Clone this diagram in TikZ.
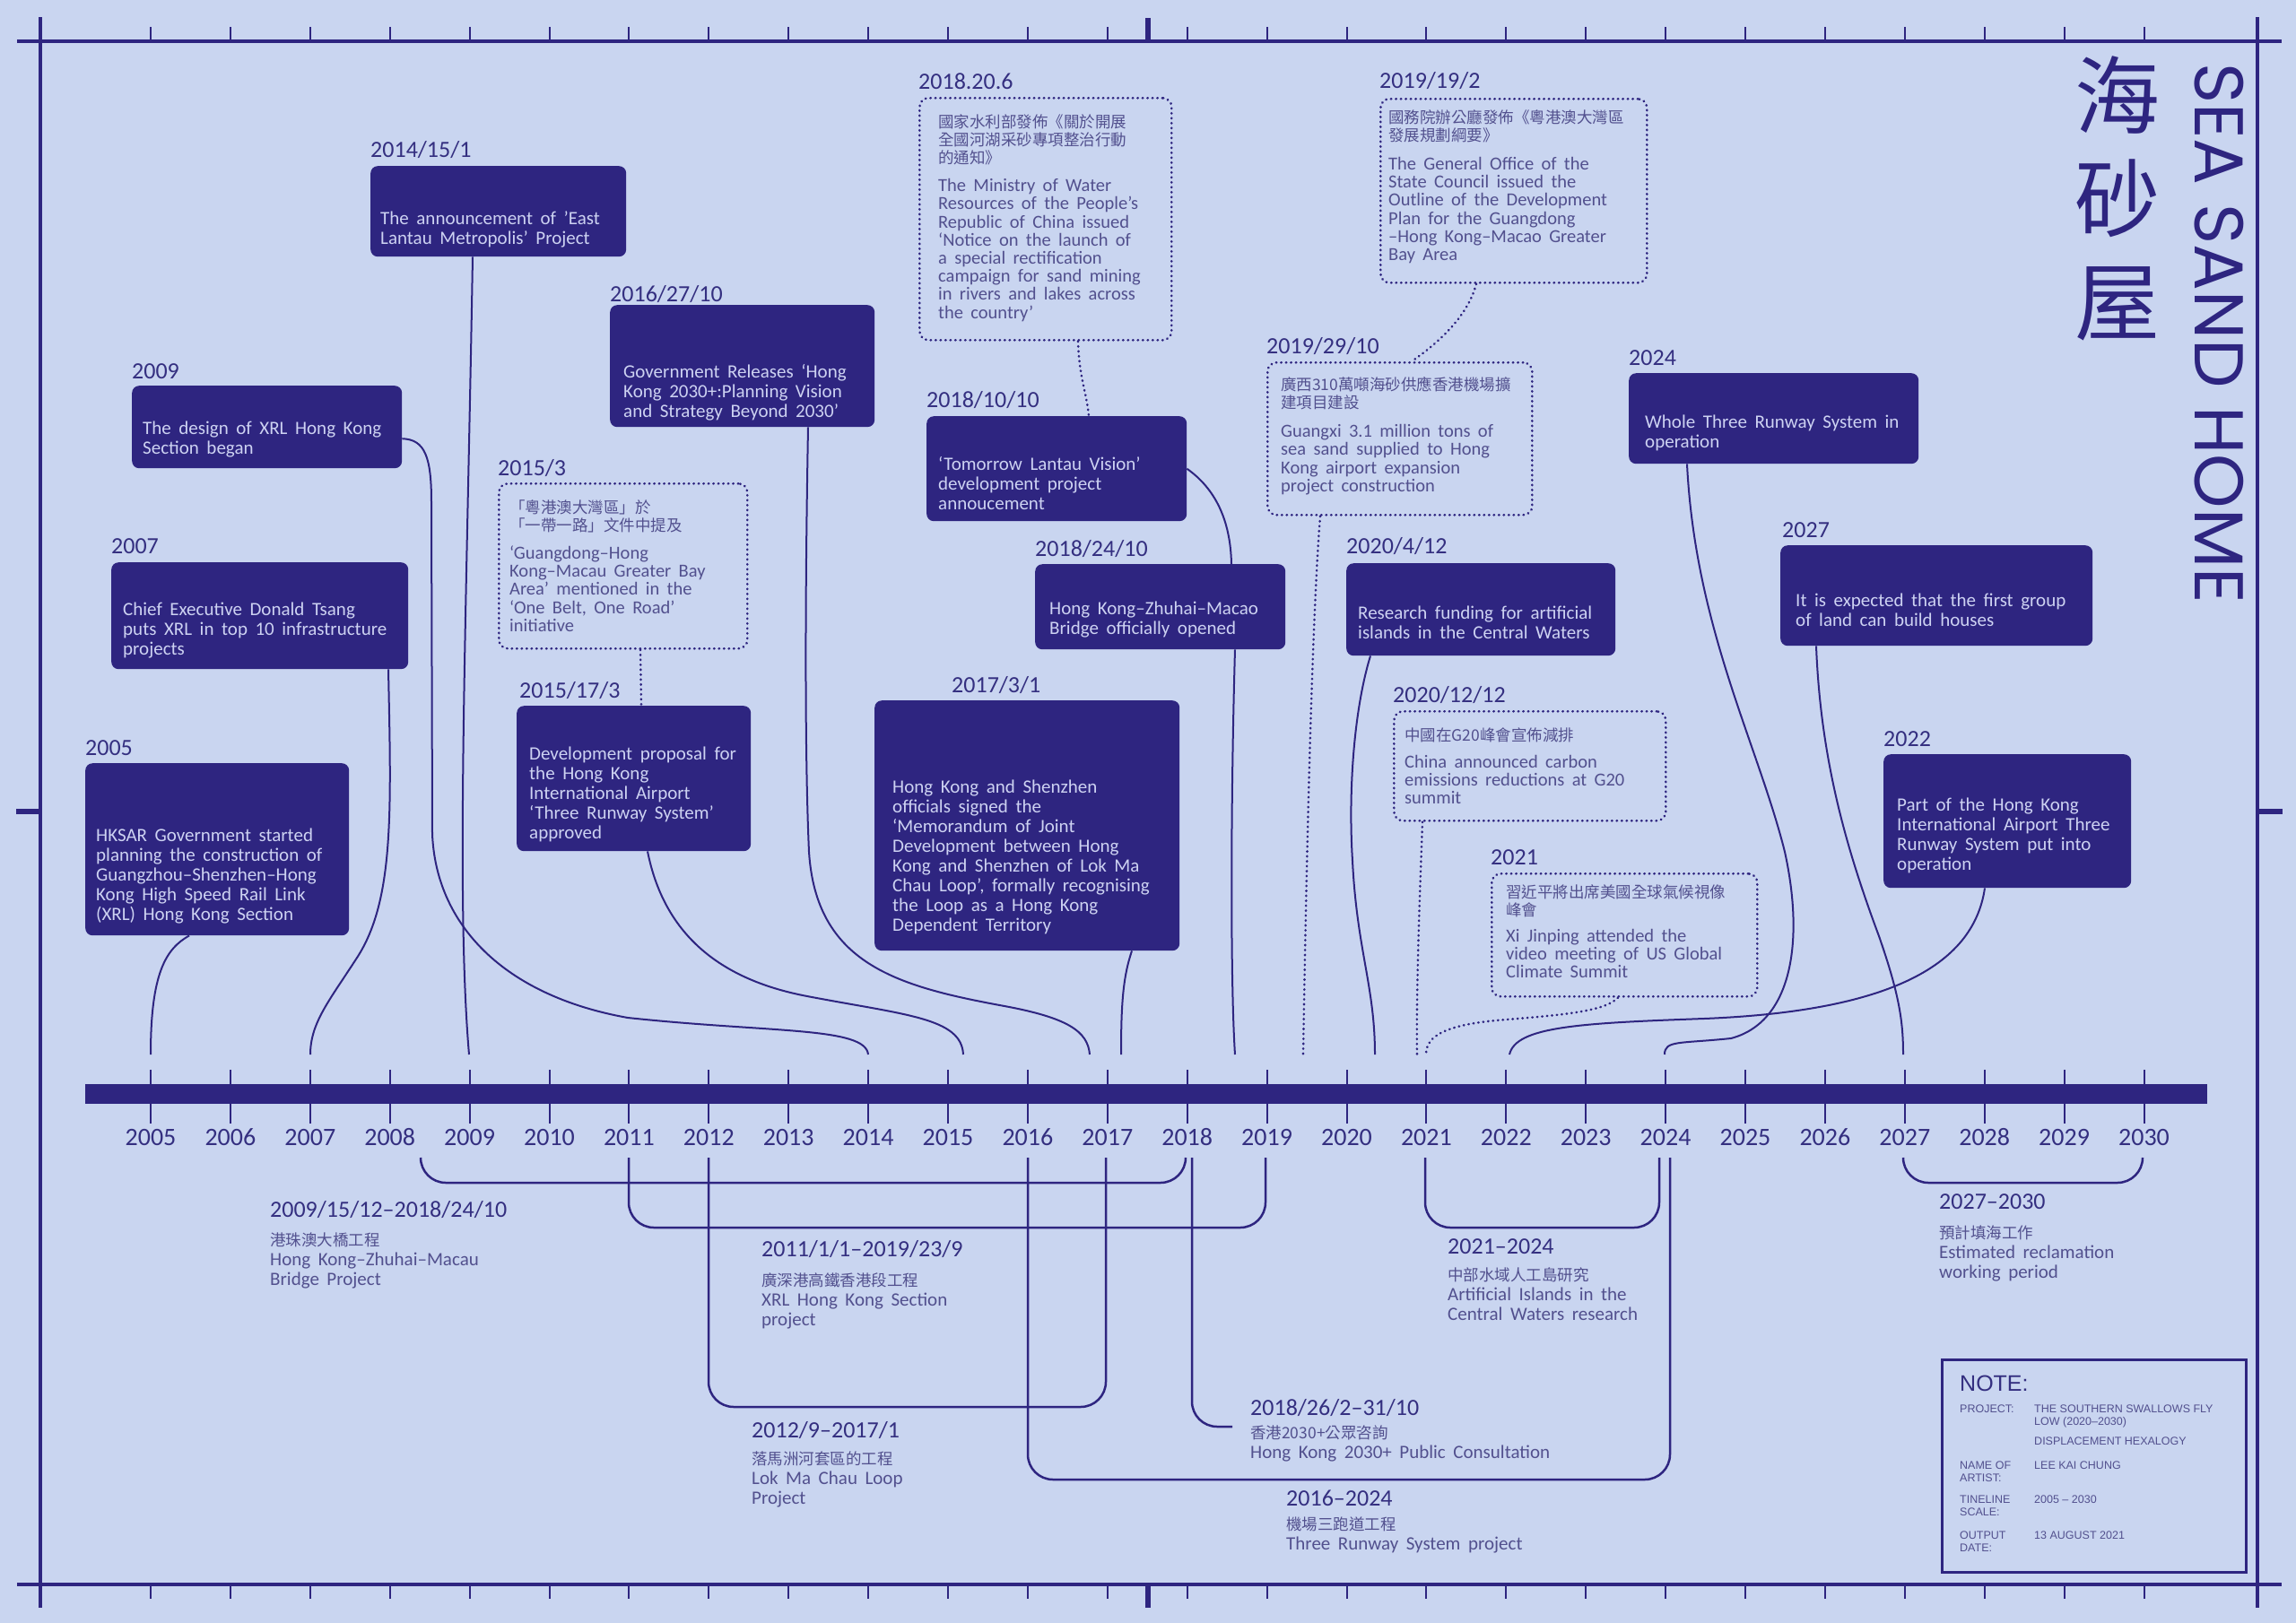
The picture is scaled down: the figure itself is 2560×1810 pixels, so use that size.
\documentclass[tikz,border=0pt]{standalone}
\usepackage{fontspec}
\setmainfont{Carlito}[WordSpace=1.8]
\newfontfamily\cjk{Noto Sans CJK TC}
\newfontfamily\titlefont{Poppins}
\newfontfamily\notefont{Liberation Sans}
\usetikzlibrary{positioning}
\definecolor{paper}{RGB}{201,213,240}
\definecolor{navy}{RGB}{46,37,128}
\definecolor{pale}{RGB}{205,210,242}
\definecolor{ink}{RGB}{52,47,128}
\definecolor{dim}{RGB}{82,80,142}
\newcommand{\zh}[1]{{\cjk\fontsize{17.5pt}{20pt}\selectfont #1}}
\tikzset{rim/.style={navy, line width=4pt}}
\tikzset{tickln/.style={navy, line width=2pt}}
\tikzset{evbox/.style={fill=navy, rounded corners=8pt, anchor=north west, inner sep=0pt}}
\tikzset{evtext/.style={align=left, inner sep=0pt, text=pale, font=\fontsize{21pt}{22pt}\selectfont}}
\tikzset{dotbox/.style={draw=navy, line width=2.6pt, line cap=round, dash pattern=on 0.5pt off 5pt, rounded corners=10pt, anchor=north west, inner sep=0pt}}
\tikzset{dottext/.style={align=left, inner sep=0pt, text=dim, font=\fontsize{20.5pt}{20.2pt}\selectfont}}
\tikzset{datelbl/.style={anchor=base west, inner sep=0pt, text=ink, font=\fontsize{26pt}{28pt}\selectfont}}
\tikzset{yearlbl/.style={anchor=base, inner sep=0pt, text=ink, font=\fontsize{28pt}{30pt}\selectfont}}
\tikzset{wire/.style={draw=navy, line width=2pt}}
\tikzset{dwire/.style={draw=navy, line width=2.6pt, line cap=round, dash pattern=on 0.5pt off 5pt}}
\tikzset{spanline/.style={navy, line width=2.5pt, rounded corners=28pt}}
\tikzset{spandate/.style={anchor=base west, inner sep=0pt, text=ink, font=\fontsize{26pt}{28pt}\selectfont}}
\tikzset{spantext/.style={anchor=north west, align=left, inner sep=0pt, text=dim, font=\fontsize{21pt}{22pt}\selectfont}}
\tikzset{notehead/.style={anchor=base west, inner sep=0pt, text=ink, font=\notefont\fontsize{25pt}{27pt}\selectfont}}
\tikzset{notetext/.style={anchor=north west, align=left, inner sep=0pt, text=dim, font=\notefont\fontsize{12.5pt}{14.5pt}\selectfont}}

\begin{document}
\begin{tikzpicture}[x=1pt, y=-1pt]
  \useasboundingbox (0,0) rectangle (2560,1810);
  \fill[paper] (0,0) rectangle (2560,1810);
  % frame
  \draw[rim] (19,46) -- (2544,46);
  \draw[rim] (19,1767) -- (2544,1767);
  \draw[rim] (45,19) -- (45,1793);
  \draw[rim] (2517,19) -- (2517,1793);
  \foreach \k in {0,...,25} {
    \draw[tickln] ({168+88.9*\k},46) -- ++(0,-16);
    \draw[tickln] ({168+88.9*\k},1767) -- ++(0,16);
  }
  \draw[navy, line width=6pt] (1280,46) -- (1280,20) (1280,1767) -- (1280,1793)
      (45,905) -- (18,905) (2517,905) -- (2545,905);
  % title
  \node[rotate=-90, anchor=base west, inner sep=0pt, text=navy, font=\titlefont\fontsize{77pt}{80pt}\selectfont] (title) at (2447,70) {SEA SAND HOME};
  \node[anchor=north, align=center, inner sep=0pt, text=navy, font=\cjk\fontsize{95pt}{115pt}\selectfont] (titlezh) at (2361,62) {海\\砂\\屋};

  % timeline
  \fill[navy] (95,1209) rectangle (2461,1231);
  \foreach \yr in {2005,...,2030} {
    \coordinate (y\yr) at ({168+88.9*(\yr-2005)},1220);
    \draw[tickln] ([yshift=27pt]y\yr) -- ([yshift=-33pt]y\yr);
    \node[yearlbl] (l\yr) at ([yshift=-57pt]y\yr) {\yr};
  }
  \coordinate (t2005) at (168,1176);
  \coordinate (t2007) at (346,1176);
  \coordinate (t2009) at (523,1176);
  \coordinate (t2014) at (968,1176);
  \coordinate (t2015) at (1074,1176);
  \coordinate (t2016) at (1215,1176);
  \coordinate (t2017) at (1250,1176);
  \coordinate (t2018) at (1377,1176);
  \coordinate (t2019) at (1453,1176);
  \coordinate (t2020) at (1533,1176);
  \coordinate (t2020b) at (1580,1176);
  \coordinate (t2021) at (1590,1176);
  \coordinate (t2022) at (1683,1176);
  \coordinate (t2024) at (1856,1176);
  \coordinate (t2027) at (2122,1176);

  % events, filled
  \node[evbox, minimum width=294pt, minimum height=192pt] (e2005) at (95,851) {};
  \node[datelbl] (e2005d) at ([yshift=9pt]e2005.north west) {2005};
  \node[evtext, below right=73pt and 12pt of e2005.north west] (e2005t) {HKSAR Government started\\planning the construction of\\Guangzhou–Shenzhen–Hong\\Kong High Speed Rail Link\\(XRL) Hong Kong Section};

  \node[evbox, minimum width=331pt, minimum height=119pt] (e2007) at (124,627) {};
  \node[datelbl] (e2007d) at ([yshift=10pt]e2007.north west) {2007};
  \node[evtext, below right=45pt and 13pt of e2007.north west] (e2007t) {Chief Executive Donald Tsang\\puts XRL in top 10 infrastructure\\projects};

  \node[evbox, minimum width=301pt, minimum height=92pt] (e2009) at (147,430) {};
  \node[datelbl] (e2009d) at ([yshift=8pt]e2009.north west) {2009};
  \node[evtext, below right=40pt and 12pt of e2009.north west] (e2009t) {The design of XRL Hong Kong\\Section began};

  \node[evbox, minimum width=285pt, minimum height=101pt] (e2014) at (413,185) {};
  \node[datelbl] (e2014d) at ([yshift=10pt]e2014.north west) {2014/15/1};
  \node[evtext, below right=50pt and 11pt of e2014.north west] (e2014t) {The announcement of ’East\\Lantau Metropolis’ Project};

  \node[evbox, minimum width=295pt, minimum height=136pt] (e2016) at (680,340) {};
  \node[datelbl] (e2016d) at ([yshift=4pt]e2016.north west) {2016/27/10};
  \node[evtext, below right=66pt and 15pt of e2016.north west] (e2016t) {Government Releases ‘Hong\\Kong 2030+:Planning Vision\\and Strategy Beyond 2030’};

  \node[evbox, minimum width=261pt, minimum height=162pt] (e2015) at (576,787) {};
  \node[datelbl] (e2015d) at ([shift={(3pt,9pt)}]e2015.north west) {2015/17/3};
  \node[evtext, below right=46pt and 14pt of e2015.north west] (e2015t) {Development proposal for\\the Hong Kong\\International Airport\\‘Three Runway System’\\approved};

  \node[evbox, minimum width=340pt, minimum height=279pt] (e2017) at (975,781) {};
  \node[datelbl] (e2017d) at ([shift={(86pt,9pt)}]e2017.north west) {2017/3/1};
  \node[evtext, below right=89pt and 20pt of e2017.north west] (e2017t) {Hong Kong and Shenzhen\\officials signed the\\‘Memorandum of Joint\\Development between Hong\\Kong and Shenzhen of Lok Ma\\Chau Loop’, formally recognising\\the Loop as a Hong Kong\\Dependent Territory};

  \node[evbox, minimum width=290pt, minimum height=117pt] (e2018a) at (1033,464) {};
  \node[datelbl] (e2018ad) at ([yshift=10pt]e2018a.north west) {2018/10/10};
  \node[evtext, below right=45pt and 13pt of e2018a.north west] (e2018at) {‘Tomorrow Lantau Vision’\\development project\\annoucement};

  \node[evbox, minimum width=279pt, minimum height=95pt] (e2018b) at (1154,629) {};
  \node[datelbl] (e2018bd) at ([yshift=9pt]e2018b.north west) {2018/24/10};
  \node[evtext, below right=42pt and 16pt of e2018b.north west] (e2018bt) {Hong Kong–Zhuhai–Macao\\Bridge officially opened};

  \node[evbox, minimum width=300pt, minimum height=103pt] (e2020) at (1501,628) {};
  \node[datelbl] (e2020d) at ([yshift=11pt]e2020.north west) {2020/4/12};
  \node[evtext, below right=48pt and 13pt of e2020.north west] (e2020t) {Research funding for artificial\\islands in the Central Waters};

  \node[evbox, minimum width=323pt, minimum height=101pt] (e2024) at (1816,416) {};
  \node[datelbl] (e2024d) at ([yshift=9pt]e2024.north west) {2024};
  \node[evtext, below right=47pt and 18pt of e2024.north west] (e2024t) {Whole Three Runway System in\\operation};

  \node[evbox, minimum width=348pt, minimum height=112pt] (e2027) at (1985,608) {};
  \node[datelbl] (e2027d) at ([shift={(2pt,9pt)}]e2027.north west) {2027};
  \node[evtext, below right=54pt and 17pt of e2027.north west] (e2027t) {It is expected that the first group\\of land can build houses};

  \node[evbox, minimum width=276pt, minimum height=149pt] (e2022) at (2100,841) {};
  \node[datelbl] (e2022d) at ([yshift=9pt]e2022.north west) {2022};
  \node[evtext, below right=49pt and 15pt of e2022.north west] (e2022t) {Part of the Hong Kong\\International Airport Three\\Runway System put into\\operation};

  % events, dotted
  \node[dotbox, minimum width=277pt, minimum height=184pt] (d2015) at (555,538) {};
  \node[datelbl] (d2015d) at ([yshift=8pt]d2015.north west) {2015/3};
  \node[dottext, below right=19pt and 13pt of d2015.north west] (d2015t) {\zh{「粵港澳大灣區」於}\\\zh{「一帶一路」文件中提及}\\[11pt]‘Guangdong–Hong\\Kong–Macau Greater Bay\\Area’ mentioned in the\\‘One Belt, One Road’\\initiative};

  \node[dotbox, minimum width=281pt, minimum height=270pt] (d2018) at (1024,108) {};
  \node[datelbl] (d2018d) at ([yshift=9pt]d2018.north west) {2018.20.6};
  \node[dottext, below right=19pt and 22pt of d2018.north west] (d2018t) {\zh{國家水利部發佈《關於開展}\\\zh{全國河湖采砂專項整治行動}\\\zh{的通知》}\\[11pt]The Ministry of Water\\Resources of the People’s\\Republic of China issued\\‘Notice on the launch of\\a special rectification\\campaign for sand mining\\in rivers and lakes across\\the country’};

  \node[dotbox, minimum width=297pt, minimum height=205pt] (d2019a) at (1538,109) {};
  \node[datelbl] (d2019ad) at ([yshift=11pt]d2019a.north west) {2019/19/2};
  \node[dottext, below right=13pt and 10pt of d2019a.north west] (d2019at) {\zh{國務院辦公廳發佈《粵港澳大灣區}\\\zh{發展規劃綱要》}\\[12pt]The General Office of the\\State Council issued the\\Outline of the Development\\Plan for the Guangdong\\–Hong Kong–Macao Greater\\Bay Area};

  \node[dotbox, minimum width=295pt, minimum height=170pt] (d2019b) at (1412,403) {};
  \node[datelbl] (d2019bd) at ([yshift=9pt]d2019b.north west) {2019/29/10};
  \node[dottext, below right=17pt and 16pt of d2019b.north west] (d2019bt) {\zh{廣西310萬噸海砂供應香港機場擴}\\\zh{建項目建設}\\[12pt]Guangxi 3.1 million tons of\\sea sand supplied to Hong\\Kong airport expansion\\project construction};

  \node[dotbox, minimum width=303pt, minimum height=122pt] (d2020) at (1553,792) {};
  \node[datelbl] (d2020d) at ([yshift=9pt]d2020.north west) {2020/12/12};
  \node[dottext, below right=20pt and 13pt of d2020.north west] (d2020t) {\zh{中國在G20峰會宣佈減排}\\[9pt]China announced carbon\\emissions reductions at G20\\summit};

  \node[dotbox, minimum width=296pt, minimum height=137pt] (d2021) at (1662,973) {};
  \node[datelbl] (d2021d) at ([yshift=9pt]d2021.north west) {2021};
  \node[dottext, below right=13pt and 17pt of d2021.north west] (d2021t) {\zh{習近平將出席美國全球氣候視像}\\\zh{峰會}\\[9pt]Xi Jinping attended the\\video meeting of US Global\\Climate Summit};

  % connectors
  \draw[wire] ([xshift=116pt]e2005.south west) .. controls (185,1058) and (168,1085) .. (t2005);
  \draw[wire] ([xshift=309pt]e2007.south west) .. controls (436,900) and (440,1000) .. (400,1065)
      .. controls (368,1115) and (346,1140) .. (t2007);
  \draw[wire] ([yshift=-13pt]e2009.east) .. controls (474,490) and (481,510) .. (481,560) -- (482,930)
      .. controls (486,1030) and (560,1110) .. (700,1135) .. controls (860,1152) and (965,1145) .. (t2014);
  \draw[wire] ([xshift=114pt]e2014.south west) .. controls (520,700) and (508,1000) .. (t2009);
  \draw[wire] ([xshift=221pt]e2016.south west) .. controls (897,700) and (898,860) .. (902,950)
      .. controls (910,1075) and (1000,1100) .. (1120,1122) .. controls (1190,1135) and (1213,1150) .. (t2016);
  \draw[wire] ([xshift=146pt]e2015.south west) .. controls (740,1040) and (800,1092) .. (900,1111)
      .. controls (1010,1132) and (1072,1135) .. (t2015);
  \draw[wire] ([xshift=287pt]e2017.south west) .. controls (1252,1090) and (1250,1120) .. (t2017);
  \draw[wire] (e2018a.east) .. controls (1355,545) and (1372,580) .. ([xshift=219pt]e2018b.north west);
  \draw[wire] ([xshift=223pt]e2018b.south west) .. controls (1372,900) and (1372,1100) .. (t2018);
  \draw[wire] ([xshift=27pt]e2020.south west) .. controls (1510,790) and (1503,880) .. (1508,960)
      .. controls (1513,1060) and (1533,1100) .. (t2020);
  \draw[wire] ([xshift=113pt]e2022.south west) .. controls (2200,1080) and (2100,1128) .. (1900,1136)
      .. controls (1760,1141) and (1690,1145) .. (t2022);
  \draw[wire] ([xshift=65pt]e2024.south west) .. controls (1890,700) and (1960,830) .. (1990,950)
      .. controls (2012,1050) and (1998,1140) .. (1930,1158) .. controls (1872,1164) and (1856,1160) .. (t2024);
  \draw[wire] ([xshift=40pt]e2027.south west) .. controls (2030,850) and (2060,950) .. (2095,1044)
      .. controls (2118,1110) and (2122,1140) .. (t2027);
  \draw[dwire] ([xshift=159pt]d2015.south west) -- ([xshift=139pt]e2015.north west);
  \draw[dwire] ([xshift=178pt]d2018.south west) .. controls (1203,420) and (1212,440) .. ([xshift=181pt]e2018a.north west);
  \draw[dwire] ([xshift=108pt]d2019a.south west) .. controls (1636,355) and (1600,385) .. ([xshift=162pt]d2019b.north west);
  \draw[dwire] ([xshift=60pt]d2019b.south west) .. controls (1462,700) and (1456,1000) .. (t2019);
  \draw[dwire] ([xshift=33pt]d2020.south west) .. controls (1583,1000) and (1579,1100) .. (t2020b);
  \draw[dwire] ([xshift=142pt]d2021.south west) .. controls (1790,1128) and (1740,1132) .. (1680,1137)
      .. controls (1612,1142) and (1590,1155) .. (t2021);

  % project spans
  \draw[spanline] (469,1291) -- (469,1319) -- (1322,1319) -- (1322,1291);
  \draw[spanline] (701,1291) -- (701,1369) -- (1411,1369) -- (1411,1291);
  \draw[spanline] (790,1291) -- (790,1569) -- (1233,1569) -- (1233,1291);
  \draw[spanline] (1146,1291) -- (1146,1650) -- (1862,1650) -- (1862,1291);
  \draw[spanline] (1329,1291) -- (1329,1591) -- (1374,1591);
  \draw[spanline] (1589,1291) -- (1589,1369) -- (1850,1369) -- (1850,1291);
  \draw[spanline] (2122,1291) -- (2122,1319) -- (2389,1319) -- (2389,1291);

  \node[spandate] (s1d) at (301,1357.5) {2009/15/12–2018/24/10};
  \node[spantext] (s1t) at (301,1374.5) {\zh{港珠澳大橋工程}\\Hong Kong–Zhuhai–Macau\\Bridge Project};
  \node[spandate] (s2d) at (849,1401.5) {2011/1/1–2019/23/9};
  \node[spantext] (s2t) at (849,1419.5) {\zh{廣深港高鐵香港段工程}\\XRL Hong Kong Section\\project};
  \node[spandate] (s3d) at (838,1603.5) {2012/9–2017/1};
  \node[spantext] (s3t) at (838,1618.5) {\zh{落馬洲河套區的工程}\\Lok Ma Chau Loop\\Project};
  \node[spandate] (s4d) at (1434,1679.5) {2016–2024};
  \node[spantext] (s4t) at (1434,1691.5) {\zh{機場三跑道工程}\\Three Runway System project};
  \node[spandate] (s5d) at (1394,1578.5) {2018/26/2–31/10};
  \node[spantext] (s5t) at (1394,1589.5) {\zh{香港2030+公眾咨詢}\\Hong Kong 2030+ Public Consultation};
  \node[spandate] (s6d) at (1614,1398.5) {2021–2024};
  \node[spantext] (s6t) at (1614,1413.5) {\zh{中部水域人工島研究}\\Artificial Islands in the\\Central Waters research};
  \node[spandate] (s7d) at (2162,1348.5) {2027–2030};
  \node[spantext] (s7t) at (2162,1366.5) {\zh{預計填海工作}\\Estimated reclamation\\working period};

  % note
  \node[draw=navy, line width=2.5pt, minimum width=339pt, minimum height=237pt, anchor=north west, inner sep=0pt] (note) at (2164,1515) {};
  \node[notehead] (noteh) at (2185,1551) {NOTE:};
  \node[notetext] (n1) at (2185,1566.5) {PROJECT:};
  \node[notetext] (n1v) at (2268,1566.5) {THE SOUTHERN SWALLOWS FLY\\LOW (2020–2030)};
  \node[notetext] (n1w) at (2268,1602.5) {DISPLACEMENT HEXALOGY};
  \node[notetext] (n2) at (2185,1629.5) {NAME OF\\ARTIST:};
  \node[notetext] (n2v) at (2268,1629.5) {LEE KAI CHUNG};
  \node[notetext] (n3) at (2185,1667.5) {TINELINE\\SCALE:};
  \node[notetext] (n3v) at (2268,1667.5) {2005 – 2030};
  \node[notetext] (n4) at (2185,1707.5) {OUTPUT\\DATE:};
  \node[notetext] (n4v) at (2268,1707.5) {13 AUGUST 2021};
\end{tikzpicture}
\end{document}
